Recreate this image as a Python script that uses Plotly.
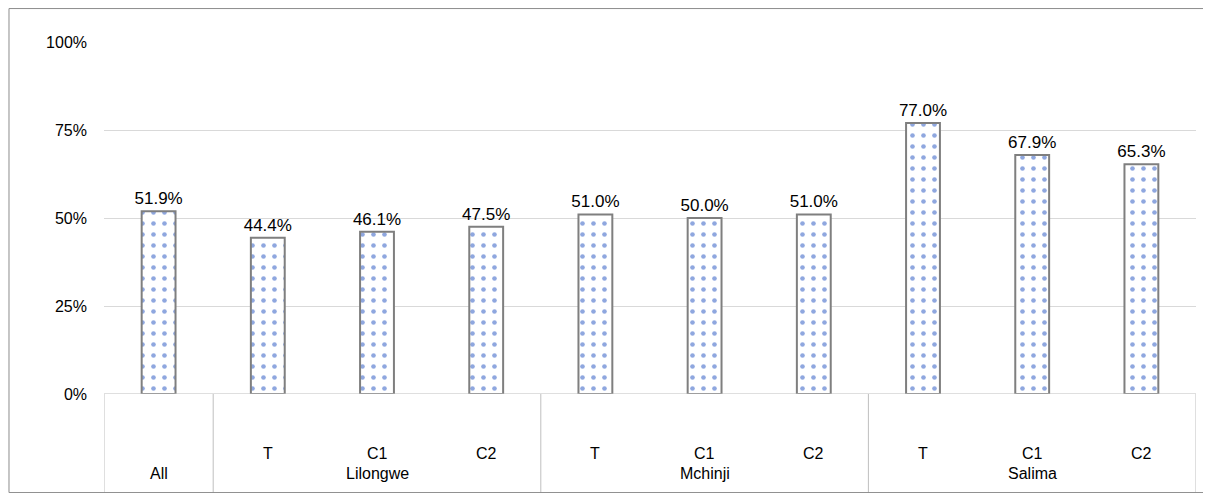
import plotly.graph_objects as go

groups = ["All", "Lilongwe", "Mchinji", "Salima"]
sub_labels = ["", "T", "C1", "C2", "T", "C1", "C2", "T", "C1", "C2"]
values = [51.9, 44.4, 46.1, 47.5, 51.0, 50.0, 51.0, 77.0, 67.9, 65.3]
ticks = [0, 25, 50, 75, 100]
tick_text = ["0%", "25%", "50%", "75%", "100%"]

x = list(range(len(values)))
fig = go.Figure(go.Bar(
    x=x, y=values, width=0.31,
    marker=dict(color="white", line=dict(color="#7f7f7f", width=2),
                pattern=dict(shape=".", fgcolor="#1f4fbf", bgcolor="white", size=11, solidity=0.14)),
    text=[f"{v:.1f}%" for v in values], textposition="outside", constraintext="none",
    textfont=dict(family="Liberation Sans, Arial", size=17, color="#000"),
    cliponaxis=False, hoverinfo="skip"))

font = dict(family="Liberation Sans, Arial", size=16, color="#000")
fig.update_layout(
    width=1203, height=485, margin=dict(l=96, r=15, t=34, b=99),
    plot_bgcolor="white", paper_bgcolor="white", showlegend=False,
    xaxis=dict(range=[-0.5, 9.5], showticklabels=False, showgrid=False, zeroline=False),
    yaxis=dict(range=[0, 100], tickvals=ticks, ticktext=tick_text, showgrid=True,
               gridcolor="#d9d9d9", zeroline=False, tickfont=font, ticks="", ticklen=0,
               ticklabelstandoff=16),
)
shapes = []
shapes.append(dict(type="line", xref="x", yref="y", x0=-0.5, x1=9.5, y0=0, y1=0, line=dict(color="#bfbfbf", width=1)))
for b in [-0.5, 0.5, 3.5, 6.5, 9.5]:
    shapes.append(dict(type="line", xref="x", yref="paper", x0=b, x1=b, y0=0, y1=-0.3, line=dict(color="#bfbfbf", width=1)))
shapes.append(dict(type="rect", xref="paper", yref="paper", x0=-0.087, x1=1.012, y0=-0.28, y1=1.095, line=dict(color="#8c8c8c", width=1)))
annotations = []
for i, s in enumerate(sub_labels):
    if s:
        annotations.append(dict(x=i, y=-0.168, xref="x", yref="paper", text=s, showarrow=False,
                                font=font, yanchor="middle"))
for g, (a, b) in zip(groups, [(0, 0), (1, 3), (4, 6), (7, 9)]):
    annotations.append(dict(x=(a + b) / 2, y=-0.227, xref="x", yref="paper", text=g, showarrow=False,
                            font=font, yanchor="middle"))
fig.update_layout(shapes=shapes, annotations=annotations)
fig.write_html("out.html")
